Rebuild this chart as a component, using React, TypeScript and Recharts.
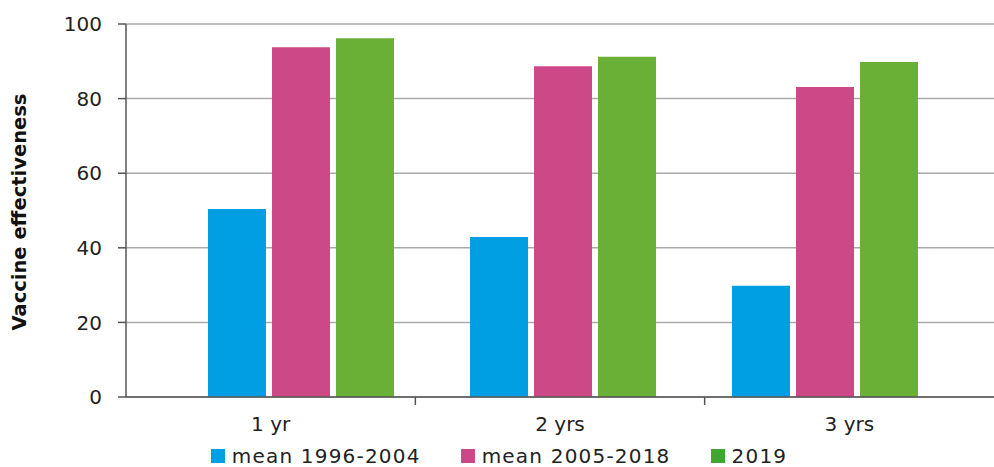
import React from "react";
import {
  BarChart,
  Bar,
  XAxis,
  YAxis,
  CartesianGrid,
  Legend,
} from "recharts";

const categories = ["1 yr", "2 yrs", "3 yrs"];
const mean1996to2004 = [50.4, 42.9, 29.8];
const mean2005to2018 = [93.8, 88.7, 83.1];
const year2019 = [96.2, 91.2, 89.8];
const yTicks = [0, 20, 40, 60, 80, 100];

const seriesInfo = [
  { key: "m1", name: "mean 1996-2004", color: "#009fe3", legend: "#009fe3" },
  { key: "m2", name: "mean 2005-2018", color: "#cd4886", legend: "#cd4886" },
  { key: "y19", name: "2019", color: "#6aaf36", legend: "#3fa535" },
];

const data = categories.map((cat, i) => ({
  cat,
  pos: i + 0.5,
  m1: mean1996to2004[i],
  m2: mean2005to2018[i],
  y19: year2019[i],
}));

const FONT = "'DejaVu Sans', sans-serif";

// x axis: labels at band centres, tick marks at band edges
const CatTick = (props: any) => {
  const { x, y, payload } = props;
  const v = payload.value;
  if (Number.isInteger(v)) {
    if (v === 0 || v === 3) return <g />;
    return <line x1={x} x2={x} y1={y - 8} y2={y} stroke="#555" strokeWidth={1.5} />;
  }
  const label = categories[Math.floor(v)];
  return (
    <text x={x} y={y + 26} textAnchor="middle" fill="#222" fontSize={20} fontFamily={FONT}>
      {label}
    </text>
  );
};

const LegendContent = () => (
  <div
    style={{
      display: "flex",
      justifyContent: "center",
      gap: 40,
      fontFamily: FONT,
      fontSize: 20,
      color: "#222",
      marginLeft: 4,
      paddingTop: 8,
      lineHeight: "22px",
    }}
  >
    {seriesInfo.map((s) => (
      <div key={s.key} style={{ display: "flex", alignItems: "center" }}>
        <span
          style={{
            display: "inline-block",
            width: 14,
            height: 14,
            background: s.legend,
            marginRight: 7,
          }}
        />
        <span style={{ letterSpacing: 1.2 }}>{s.name}</span>
      </div>
    ))}
  </div>
);

export default function App() {
  return (
    <div style={{ position: "absolute", left: 0, top: 0, background: "#fff" }}>
      <BarChart
        width={994}
        height={467}
        data={data}
        margin={{ top: 24, right: 0, left: 0, bottom: 0 }}
        barSize={58}
        barGap={6}
      >
        <CartesianGrid vertical={false} stroke="#aaa" strokeWidth={1.5} />
        <XAxis xAxisId="bars" dataKey="cat" hide height={0} padding={{ left: 44, right: 38 }} />
        <XAxis
          xAxisId="ticks"
          dataKey="pos"
          type="number"
          domain={[0, 3]}
          ticks={[0, 0.5, 1, 1.5, 2, 2.5, 3]}
          interval={0}
          tickLine={false}
          tick={<CatTick />}
          axisLine={{ stroke: "#555", strokeWidth: 1.5 }}
          height={40}
          allowDataOverflow
        />
        <YAxis
          domain={[0, 100]}
          ticks={yTicks}
          width={126}
          tickSize={8}
          tickMargin={16}
          tick={{ fill: "#222", fontSize: 20, fontFamily: FONT }}
          axisLine={{ stroke: "#555", strokeWidth: 1.5 }}
          tickLine={{ stroke: "#555", strokeWidth: 1.5 }}
          label={{
            value: "Vaccine effectiveness",
            angle: -90,
            position: "insideLeft",
            dx: 14,
            dy: 120,
            style: { fill: "#111", fontSize: 19.5, fontWeight: 700, fontFamily: FONT },
          }}
        />
        <Legend verticalAlign="bottom" height={30} content={<LegendContent />} />
        {seriesInfo.map((s) => (
          <Bar
            key={s.key}
            xAxisId="bars"
            dataKey={s.key}
            name={s.name}
            fill={s.color}
            isAnimationActive={false}
          />
        ))}
      </BarChart>
    </div>
  );
}
